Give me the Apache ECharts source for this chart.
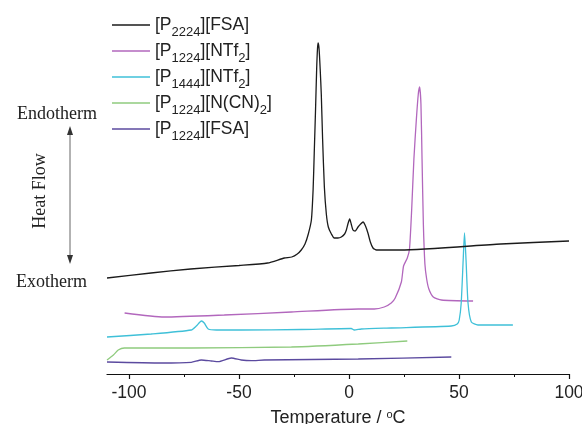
<!DOCTYPE html>
<html>
<head>
<meta charset="utf-8">
<script src="https://cdn.jsdelivr.net/npm/echarts@6/dist/echarts.min.js"></script>
<style>
  html, body { margin: 0; padding: 0; background: #fff; }
  #chart { width: 582px; height: 424px; }
</style>
</head>
<body>
<div id="chart"></div>
<script>
// DSC traces: [temperature in °C, heat flow in arbitrary offset units]
const seriesNames = ['[P2224][FSA]', '[P1224][NTf2]', '[P1444][NTf2]', '[P1224][N(CN)2]', '[P1224][FSA]'];
const legendRich = [
  '{m|[P}{s|2224}{m|][FSA]}',
  '{m|[P}{s|1224}{m|][NTf}{s|2}{m|]}',
  '{m|[P}{s|1444}{m|][NTf}{s|2}{m|]}',
  '{m|[P}{s|1224}{m|][N(CN)}{s|2}{m|]}',
  '{m|[P}{s|1224}{m|][FSA]}'
];
const seriesColors = ['#1b1b1b', '#b267bd', '#3fc0d8', '#8fcb7e', '#5b4a9f'];

const p2224FSA = [
  [-110, 96], [-90, 101], [-72, 105], [-50, 108.5], [-37, 111], [-29.4, 116], [-26, 117],
  [-23.5, 120], [-21.7, 124], [-20, 130], [-18.5, 140], [-17.1, 154], [-16.3, 185],
  [-15.8, 221], [-15.2, 265], [-14.7, 305], [-14.3, 326], [-14.0, 331], [-13.6, 325],
  [-13.1, 305], [-12.6, 280], [-12.0, 235], [-11.2, 187], [-10.3, 160], [-9.4, 147],
  [-8, 140], [-6.7, 136], [-5, 136], [-3.5, 137], [-2, 140], [-1.2, 144], [-0.5, 150],
  [0.3, 155], [1, 150], [1.8, 144], [2.8, 143], [4.1, 147], [5.3, 150], [6.4, 152],
  [7.5, 148], [8.6, 141], [9.7, 132], [10.9, 126], [12.5, 124], [14.7, 124],
  [23.5, 124], [69, 130], [100, 133]
];
const p1224NTf2 = [
  [-102, 61], [-84, 57], [-56.7, 59], [-26.2, 62], [4.2, 65], [11.5, 65], [16, 67],
  [19.2, 71], [21, 76], [23.8, 92], [24.8, 108], [26.5, 116], [27.5, 125], [28.5, 165],
  [29.5, 215], [30.6, 254], [31.5, 280], [32.1, 287], [32.7, 270], [33.2, 215],
  [33.8, 150], [34.5, 110], [35.3, 95], [36.3, 85], [38.3, 77], [42, 74], [56.4, 73]
];
const p1444NTf2 = [
  [-110, 37], [-89.9, 40], [-71.7, 44], [-69.4, 48], [-67.1, 53], [-65.8, 51], [-64, 45],
  [-60.3, 44], [-49, 44], [-21.7, 44.5], [1, 45.5], [2.4, 44], [5.6, 45], [19.2, 46],
  [46.5, 48], [49.2, 50], [50.1, 54], [51, 71], [51.9, 114], [52.5, 141], [53.2, 114],
  [54.1, 71], [55.6, 52], [58.6, 49], [74.5, 49]
];
const p1224NCN2 = [
  [-110, 14], [-107.1, 19], [-104.9, 24], [-102.1, 26], [-71.7, 26], [-26.2, 27],
  [4.2, 30], [26.5, 33]
];
const p1224FSA = [
  [-110, 12], [-85, 11], [-71.7, 11.7], [-67.1, 14], [-62.6, 13], [-59.4, 12.3],
  [-53.5, 16], [-49, 14], [-44.4, 13.3], [-38.5, 14], [4.2, 15], [46.5, 17]
];
const seriesData = [p2224FSA, p1224NTf2, p1444NTf2, p1224NCN2, p1224FSA];

const xRange = { min: -110, max: 100 };
const xMajorTicks = [-100, -50, 0, 50, 100];
const xMinorTicks = [-75, -25, 25, 75];

const chart = echarts.init(document.getElementById('chart'), null, { renderer: 'canvas' });

const serifFont = "'Liberation Serif', 'Times New Roman', serif";
const sansFont = "'Liberation Sans', Arial, sans-serif";

chart.setOption({
  animation: false,
  backgroundColor: '#ffffff',
  grid: { left: 107, right: 13, top: 0, bottom: 50, containLabel: false, outerBoundsMode: 'none' },
  xAxis: [{
    type: 'value',
    min: xRange.min,
    max: xRange.max,
    position: 'bottom',
    name: 'Temperature / {sup|o}C',
    nameLocation: 'middle',
    nameGap: 35,
    nameTextStyle: {
      fontFamily: sansFont, fontSize: 18, color: '#222',
      rich: { sup: { fontFamily: sansFont, fontSize: 11, color: '#222', verticalAlign: 'top', lineHeight: 2 } }
    },
    axisLine: { show: true, onZero: false, lineStyle: { color: '#111', width: 1.2 } },
    axisTick: { show: true, inside: false, length: 5, customValues: xMajorTicks, lineStyle: { color: '#111', width: 1.2 } },
    splitLine: { show: false },
    axisLabel: {
      fontFamily: sansFont, fontSize: 17.5, color: '#222', margin: 10,
      customValues: xMajorTicks
    }
  }, {
    type: 'value',
    min: xRange.min,
    max: xRange.max,
    position: 'bottom',
    offset: 0,
    axisLine: { show: false, onZero: false },
    axisTick: { show: true, inside: false, length: 3, customValues: xMinorTicks, lineStyle: { color: '#111', width: 1 } },
    axisLabel: { show: false },
    splitLine: { show: false }
  }],
  yAxis: {
    type: 'value', min: 0, max: 374, show: false,
    splitLine: { show: false }
  },
  legend: {
    orient: 'vertical',
    left: 112,
    top: 16,
    padding: 0,
    icon: 'rect',
    itemWidth: 38,
    itemHeight: 1.4,
    itemGap: 3,
    data: seriesNames,
    formatter: name => legendRich[seriesNames.indexOf(name)],
    textStyle: {
      color: '#222',
      rich: {
        m: { fontFamily: sansFont, fontSize: 17.5, color: '#222', lineHeight: 28 },
        s: { fontFamily: sansFont, fontSize: 13, color: '#222', lineHeight: 2, verticalAlign: 'bottom' }
      }
    }
  },
  graphic: [
    { type: 'text', left: 17, top: 105, style: { text: 'Endotherm', font: '18px ' + serifFont, fill: '#222' } },
    { type: 'text', left: 16, top: 273, style: { text: 'Exotherm', font: '18px ' + serifFont, fill: '#222' } },
    {
      type: 'text', x: 40, y: 191, rotation: Math.PI / 2,
      style: { text: 'Heat Flow', font: '18px ' + serifFont, fill: '#222', align: 'center', verticalAlign: 'middle' }
    },
    { type: 'line', shape: { x1: 70, y1: 133, x2: 70, y2: 257 }, style: { stroke: '#666', lineWidth: 1 } },
    { type: 'polygon', shape: { points: [[70, 126], [67, 135], [73, 135]] }, style: { fill: '#333' } },
    { type: 'polygon', shape: { points: [[70, 264], [67, 255], [73, 255]] }, style: { fill: '#333' } }
  ],
  series: seriesNames.map((name, i) => ({
    name: name,
    type: 'line',
    data: seriesData[i],
    symbol: 'none',
    smooth: 0.2,
    lineStyle: { color: seriesColors[i], width: 1.3 },
    itemStyle: { color: seriesColors[i] },
    z: i === 0 ? 3 : 2
  }))
});
</script>
</body>
</html>
